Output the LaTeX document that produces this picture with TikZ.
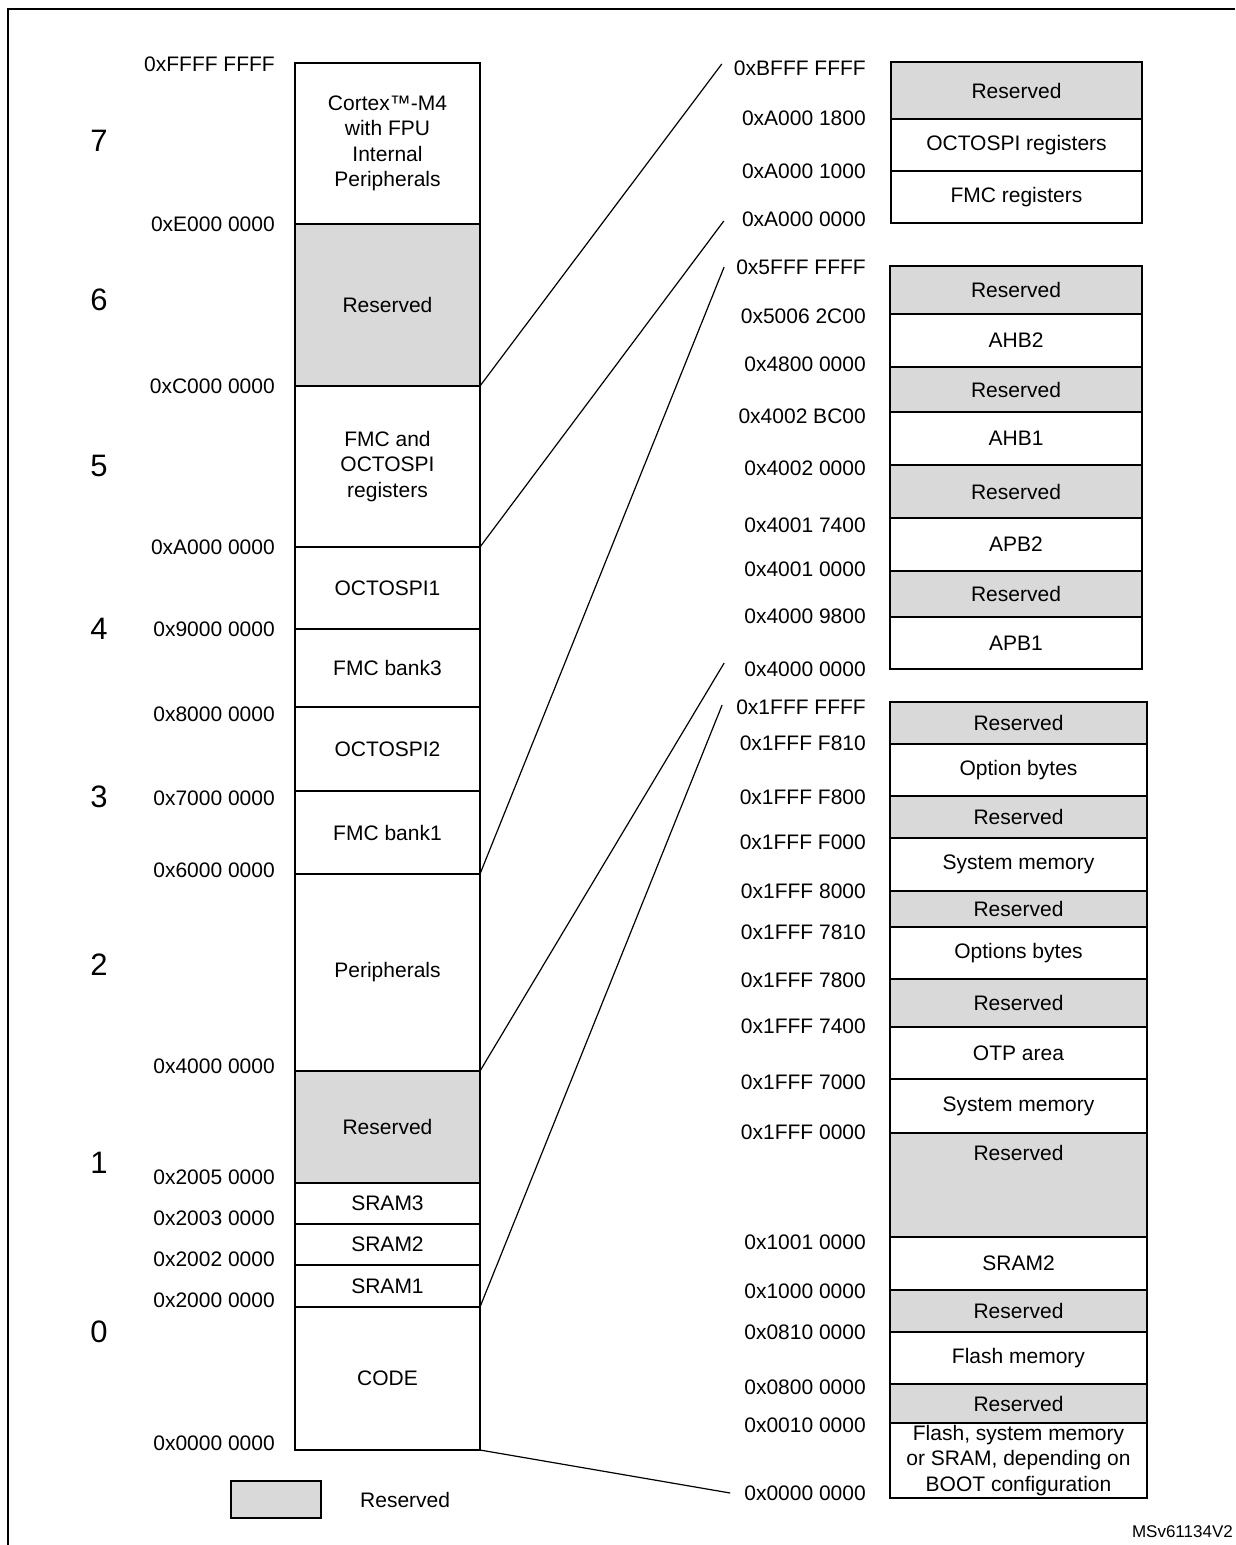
\documentclass[tikz,border=0pt]{standalone}
\usepackage{fontspec}
\setmainfont{Liberation Sans}
\usepackage{tikz}
\usetikzlibrary{positioning}
\definecolor{rsvgray}{RGB}{217,217,217}
\newcommand\memfont{\fontsize{21}{25.5}\selectfont}
\newcommand\regionfont{\fontsize{31}{36}\selectfont}

\begin{document}
\begin{tikzpicture}[x=1pt, y=-1pt,
    every node/.style={font=\memfont},
    box/.style={draw, line width=1.5pt, inner sep=0pt, outer sep=0pt, align=center, minimum width=#1},
    rbox/.style={box=#1, fill=rsvgray},
    addr/.style={inner sep=0pt},
    region/.style={font=\regionfont},
    link/.style={line width=1.2pt}]
\useasboundingbox (0,0) rectangle (1235,1545);
\draw[line width=2pt] (8,1545) -- (8,9) -- (1235,9);

% left column, whole address space
\node[box=185pt, minimum height=161pt, anchor=north west] (cortex) at (295,63) {Cortex\texttrademark-M4\\with FPU\\Internal\\Peripherals};
\node[rbox=185pt, minimum height=162pt, below=0pt of cortex] (rsv6) {Reserved};
\node[box=185pt, minimum height=161pt, below=0pt of rsv6] (fmcoct) {FMC and\\OCTOSPI\\registers};
\node[box=185pt, minimum height=82pt, below=0pt of fmcoct] (octo1) {OCTOSPI1};
\node[box=185pt, minimum height=78pt, below=0pt of octo1] (bank3) {FMC bank3};
\node[box=185pt, minimum height=84pt, below=0pt of bank3] (octo2) {OCTOSPI2};
\node[box=185pt, minimum height=83pt, below=0pt of octo2] (bank1) {FMC bank1};
\node[box=185pt, minimum height=197pt, below=0pt of bank1] (periph) {Peripherals};
\node[rbox=185pt, minimum height=112pt, below=0pt of periph] (rsv1) {Reserved};
\node[box=185pt, minimum height=41pt, below=0pt of rsv1] (sram3) {SRAM3};
\node[box=185pt, minimum height=41pt, below=0pt of sram3] (sram2) {SRAM2};
\node[box=185pt, minimum height=42pt, below=0pt of sram2] (sram1) {SRAM1};
\node[box=185pt, minimum height=143pt, below=0pt of sram1] (code) {CODE};

\node[region] (r7) at (99,141) {7};
\node[region] (r6) at (99,300) {6};
\node[region] (r5) at (99,466) {5};
\node[region] (r4) at (99,629) {4};
\node[region] (r3) at (99,797) {3};
\node[region] (r2) at (99,965) {2};
\node[region] (r1) at (99,1163) {1};
\node[region] (r0) at (99,1332) {0};

\node[addr, anchor=east] (lFFFF) at (275,64) {0xFFFF FFFF};
\node[addr, anchor=east] (lE000) at (275,224) {0xE000 0000};
\node[addr, anchor=east] (lC000) at (275,386) {0xC000 0000};
\node[addr, anchor=east] (lA000) at (275,547) {0xA000 0000};
\node[addr, anchor=east] (l9000) at (275,629) {0x9000 0000};
\node[addr, anchor=east] (l8000) at (275,714) {0x8000 0000};
\node[addr, anchor=east] (l7000) at (275,798) {0x7000 0000};
\node[addr, anchor=east] (l6000) at (275,870) {0x6000 0000};
\node[addr, anchor=east] (l4000) at (275,1066) {0x4000 0000};
\node[addr, anchor=east] (l2005) at (275,1177) {0x2005 0000};
\node[addr, anchor=east] (l2003) at (275,1218) {0x2003 0000};
\node[addr, anchor=east] (l2002) at (275,1259) {0x2002 0000};
\node[addr, anchor=east] (l2000) at (275,1300) {0x2000 0000};
\node[addr, anchor=east] (l0000) at (275,1443) {0x0000 0000};

% right, FMC and OCTOSPI registers
\node[rbox=251pt, minimum height=57pt, anchor=north west] (rsvA1) at (891,62) {Reserved};
\node[box=251pt, minimum height=52pt, below=0pt of rsvA1] (octoreg) {OCTOSPI registers};
\node[box=251pt, minimum height=52pt, below=0pt of octoreg] (fmcreg) {FMC registers};

\node[addr, anchor=east] (rBFFF) at (866,68) {0xBFFF FFFF};
\node[addr, anchor=east] (rA1800) at (866,118) {0xA000 1800};
\node[addr, anchor=east] (rA1000) at (866,171) {0xA000 1000};
\node[addr, anchor=east] (rA000) at (866,219) {0xA000 0000};

% right, peripherals
\node[rbox=252pt, minimum height=48pt, anchor=north west] (rsvB1) at (890,266) {Reserved};
\node[box=252pt, minimum height=53pt, below=0pt of rsvB1] (ahb2) {AHB2};
\node[rbox=252pt, minimum height=45pt, below=0pt of ahb2] (rsvB2) {Reserved};
\node[box=252pt, minimum height=53pt, below=0pt of rsvB2] (ahb1) {AHB1};
\node[rbox=252pt, minimum height=53pt, below=0pt of ahb1] (rsvB3) {Reserved};
\node[box=252pt, minimum height=53pt, below=0pt of rsvB3] (apb2) {APB2};
\node[rbox=252pt, minimum height=46pt, below=0pt of apb2] (rsvB4) {Reserved};
\node[box=252pt, minimum height=52pt, below=0pt of rsvB4] (apb1) {APB1};

\node[addr, anchor=east] (r5FFF) at (866,267) {0x5FFF FFFF};
\node[addr, anchor=east] (r5006) at (866,316) {0x5006 2C00};
\node[addr, anchor=east] (r4800) at (866,364) {0x4800 0000};
\node[addr, anchor=east] (r402B) at (866,416) {0x4002 BC00};
\node[addr, anchor=east] (r4020) at (866,468) {0x4002 0000};
\node[addr, anchor=east] (r4017) at (866,525) {0x4001 7400};
\node[addr, anchor=east] (r4010) at (866,569) {0x4001 0000};
\node[addr, anchor=east] (r4009) at (866,616) {0x4000 9800};
\node[addr, anchor=east] (r4000) at (866,669) {0x4000 0000};

% right, code area
\node[rbox=257pt, minimum height=42pt, anchor=north west] (rsvC1) at (890,702) {Reserved};
\node[box=257pt, minimum height=52pt, below=0pt of rsvC1] (optb1) {Option bytes};
\node[rbox=257pt, minimum height=42pt, below=0pt of optb1] (rsvC2) {Reserved};
\node[box=257pt, minimum height=53pt, below=0pt of rsvC2] (sysmem1) {System memory};
\node[rbox=257pt, minimum height=36pt, below=0pt of sysmem1] (rsvC3) {Reserved};
\node[box=257pt, minimum height=52pt, below=0pt of rsvC3] (optb2) {Options bytes};
\node[rbox=257pt, minimum height=48pt, below=0pt of optb2] (rsvC4) {Reserved};
\node[box=257pt, minimum height=52pt, below=0pt of rsvC4] (otp) {OTP area};
\node[box=257pt, minimum height=54pt, below=0pt of otp] (sysmem2) {System memory};
\node[rbox=257pt, minimum height=104pt, below=0pt of sysmem2,
      label={[addr, anchor=north, yshift=-12pt]north:Reserved}] (rsvC5) {};
\node[box=257pt, minimum height=53pt, below=0pt of rsvC5] (sram2b) {SRAM2};
\node[rbox=257pt, minimum height=42pt, below=0pt of sram2b] (rsvC6) {Reserved};
\node[box=257pt, minimum height=52pt, below=0pt of rsvC6] (flash) {Flash memory};
\node[rbox=257pt, minimum height=39pt, below=0pt of flash] (rsvC7) {Reserved};
\node[box=257pt, minimum height=75pt, below=0pt of rsvC7] (boot) {Flash, system memory\\or SRAM, depending on\\BOOT configuration};

\node[addr, anchor=east] (r1FFF) at (866,707) {0x1FFF FFFF};
\node[addr, anchor=east] (rF810) at (866,743) {0x1FFF F810};
\node[addr, anchor=east] (rF800) at (866,797) {0x1FFF F800};
\node[addr, anchor=east] (rF000) at (866,842) {0x1FFF F000};
\node[addr, anchor=east] (r8000) at (866,891) {0x1FFF 8000};
\node[addr, anchor=east] (r7810) at (866,932) {0x1FFF 7810};
\node[addr, anchor=east] (r7800) at (866,980) {0x1FFF 7800};
\node[addr, anchor=east] (r7400) at (866,1026) {0x1FFF 7400};
\node[addr, anchor=east] (r7000) at (866,1082) {0x1FFF 7000};
\node[addr, anchor=east] (r0FFF) at (866,1132) {0x1FFF 0000};
\node[addr, anchor=east] (r1001) at (866,1242) {0x1001 0000};
\node[addr, anchor=east] (r1000) at (866,1291) {0x1000 0000};
\node[addr, anchor=east] (r0810) at (866,1332) {0x0810 0000};
\node[addr, anchor=east] (r0800) at (866,1387) {0x0800 0000};
\node[addr, anchor=east] (r0010) at (866,1425) {0x0010 0000};
\node[addr, anchor=east] (r0000) at (866,1493) {0x0000 0000};

% zoom lines
\draw[link] (rsv6.south east) -- ([xshift=-12pt,yshift=4pt]rBFFF.west);
\draw[link] (fmcoct.south east) -- ([xshift=-18pt,yshift=-2pt]rA000.west);
\draw[link] (bank1.south east) -- ([xshift=-12pt]r5FFF.west);
\draw[link] (periph.south east) -- ([xshift=-20pt,yshift=6pt]r4000.west);
\draw[link] (sram1.south east) -- ([xshift=-14pt,yshift=2pt]r1FFF.west);
\draw[link] (code.south east) -- ([xshift=-14pt]r0000.west);

% legend
\node[rbox=90pt, minimum height=37pt, anchor=north west] (key) at (231,1481) {};
\node[addr, right=39pt of key] (keytxt) {Reserved};
\node[addr, anchor=east, font=\fontsize{17}{20}\selectfont] (msv) at (1233,1532) {MSv61134V2};
\end{tikzpicture}
\end{document}
